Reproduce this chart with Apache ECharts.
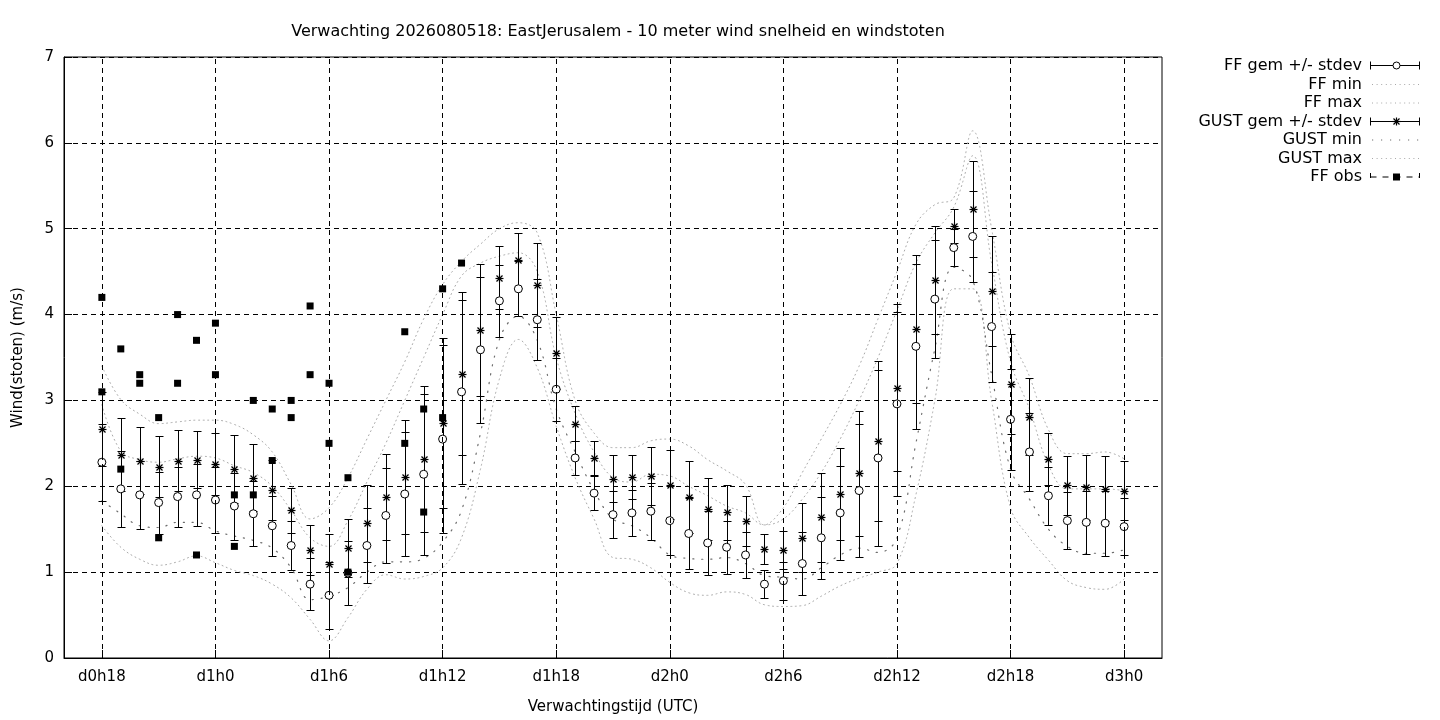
<!DOCTYPE html>
<html>
<head>
<meta charset="utf-8">
<script src="https://cdn.jsdelivr.net/npm/echarts@6/dist/echarts.min.js"></script>
<style>
  html, body { margin: 0; padding: 0; background: #fff; }
  #chart { width: 1440px; height: 720px; }
</style>
</head>
<body>
<div id="chart"></div>
<script>
// forecast hours since d0h0
var hours = [18, 19, 20, 21, 22, 23, 24, 25, 26, 27,
             28, 29, 30, 31, 32, 33, 34, 35, 36, 37,
             38, 39, 40, 41, 42, 43, 44, 45, 46, 47,
             48, 49, 50, 51, 52, 53, 54, 55, 56, 57,
             58, 59, 60, 61, 62, 63, 64, 65, 66, 67,
             68, 69, 70, 71, 72];
var tickHours = [18, 24, 30, 36, 42, 48, 54, 60, 66, 72];

var ffMean = [2.28, 1.97, 1.90, 1.81, 1.88, 1.90, 1.84, 1.77, 1.68, 1.54,
              1.31, 0.86, 0.73, 0.99, 1.31, 1.66, 1.91, 2.14, 2.55, 3.10,
              3.59, 4.16, 4.30, 3.94, 3.13, 2.33, 1.92, 1.67, 1.69, 1.71,
              1.60, 1.45, 1.34, 1.29, 1.20, 0.86, 0.90, 1.10, 1.40, 1.69,
              1.95, 2.33, 2.96, 3.63, 4.18, 4.78, 4.91, 3.86, 2.78, 2.40,
              1.89, 1.60, 1.58, 1.57, 1.53];
var ffStd = [0.45, 0.44, 0.40, 0.36, 0.35, 0.36, 0.38, 0.39, 0.38, 0.35,
             0.29, 0.30, 0.39, 0.37, 0.44, 0.55, 0.72, 0.94, 1.09, 1.07,
             0.85, 0.42, 0.32, 0.47, 0.37, 0.20, 0.20, 0.27, 0.27, 0.33,
             0.40, 0.41, 0.37, 0.31, 0.27, 0.16, 0.22, 0.37, 0.48, 0.55,
             0.77, 1.02, 1.07, 0.96, 0.69, 0.22, 0.53, 0.64, 0.59, 0.45,
             0.34, 0.33, 0.37, 0.38, 0.33];
var gustMean = [2.67, 2.37, 2.30, 2.23, 2.30, 2.31, 2.26, 2.20, 2.10, 1.96,
                1.72, 1.26, 1.09, 1.28, 1.57, 1.88, 2.11, 2.32, 2.74, 3.31,
                3.82, 4.43, 4.63, 4.34, 3.55, 2.73, 2.33, 2.09, 2.11, 2.12,
                2.02, 1.88, 1.74, 1.70, 1.60, 1.27, 1.26, 1.40, 1.64, 1.91,
                2.15, 2.53, 3.15, 3.83, 4.40, 5.03, 5.23, 4.27, 3.19, 2.81,
                2.32, 2.01, 1.99, 1.97, 1.95];
var gustStd = [0.43, 0.42, 0.39, 0.36, 0.35, 0.33, 0.36, 0.40, 0.39, 0.35,
               0.26, 0.29, 0.36, 0.34, 0.45, 0.50, 0.66, 0.85, 0.99, 0.95,
               0.77, 0.37, 0.32, 0.49, 0.42, 0.20, 0.20, 0.27, 0.26, 0.34,
               0.40, 0.42, 0.36, 0.32, 0.29, 0.17, 0.22, 0.40, 0.52, 0.54,
               0.73, 0.93, 0.97, 0.86, 0.63, 0.20, 0.56, 0.64, 0.58, 0.45,
               0.30, 0.34, 0.38, 0.38, 0.34];
var ffMin = [1.54, 1.29, 1.15, 1.08, 1.12, 1.19, 1.11, 1.02, 0.96, 0.86,
             0.70, 0.45, 0.20, 0.47, 0.80, 0.97, 0.92, 0.95, 1.05, 1.40,
             2.20, 3.25, 3.71, 3.38, 2.70, 2.10, 1.62, 1.17, 1.15, 1.05,
             0.88, 0.76, 0.73, 0.77, 0.74, 0.62, 0.60, 0.61, 0.72, 0.84,
             0.93, 1.00, 1.10, 1.90, 3.00, 4.30, 4.30, 3.00, 1.75, 1.40,
             1.14, 0.90, 0.82, 0.80, 0.92];
var ffMax = [2.95, 2.41, 2.31, 2.28, 2.32, 2.35, 2.33, 2.24, 2.16, 2.00,
             1.72, 1.40, 1.30, 1.60, 2.05, 2.50, 3.00, 3.50, 4.00, 4.45,
             4.60, 4.68, 4.72, 4.50, 3.50, 2.85, 2.40, 2.10, 2.05, 2.14,
             2.12, 2.00, 1.89, 1.77, 1.69, 1.55, 1.62, 1.85, 2.16, 2.55,
             3.00, 3.50, 4.05, 4.60, 4.95, 5.25, 5.85, 4.60, 3.45, 2.90,
             2.25, 1.97, 1.97, 1.97, 1.95];
var gustMin = [1.83, 1.68, 1.54, 1.52, 1.58, 1.58, 1.48, 1.42, 1.37, 1.28,
               1.05, 0.68, 0.72, 0.82, 1.00, 1.12, 1.12, 1.16, 1.35, 1.72,
               2.62, 3.71, 3.98, 3.70, 2.90, 2.40, 1.95, 1.62, 1.54, 1.40,
               1.20, 1.16, 1.15, 1.17, 1.10, 0.96, 0.94, 0.92, 1.05, 1.20,
               1.28, 1.23, 1.40, 2.50, 3.60, 4.55, 4.40, 3.30, 2.20, 1.85,
               1.50, 1.30, 1.22, 1.22, 1.26];
var gustMax = [3.40, 3.01, 2.84, 2.73, 2.75, 2.77, 2.77, 2.72, 2.60, 2.40,
               2.02, 1.62, 1.75, 2.10, 2.55, 3.00, 3.45, 3.95, 4.35, 4.62,
               4.82, 5.00, 5.07, 4.95, 4.00, 3.00, 2.62, 2.45, 2.45, 2.53,
               2.55, 2.47, 2.31, 2.18, 2.02, 1.55, 1.75, 2.16, 2.55, 2.95,
               3.40, 3.95, 4.50, 5.05, 5.28, 5.36, 6.14, 5.00, 3.78, 3.28,
               2.66, 2.38, 2.38, 2.40, 2.32];

// observations (two per hour where available)
var obsHours = [18, 18, 19, 19, 20, 20, 21, 21, 22, 22, 23, 23, 24, 24,
                25, 25, 26, 26, 27, 27, 28, 28, 29, 29, 30, 30, 31, 31,
                34, 34, 35, 35, 36, 36, 37];
var obsValues = [4.2, 3.1, 3.6, 2.2, 3.3, 3.2, 2.8, 1.4, 4.0, 3.2, 3.7, 1.2, 3.9, 3.3,
                 1.9, 1.3, 3.0, 1.9, 2.9, 2.3, 3.0, 2.8, 4.1, 3.3, 3.2, 2.5, 2.1, 1.0,
                 3.8, 2.5, 2.9, 1.7, 4.3, 2.8, 4.6];

var FONT = 'DejaVu Sans';
var LIGHT = '#a8a8a8';
var DARK = '#6e6e6e';

function pair(a, b) {
  return hours.map(function (h, i) { return b ? [h, a[i], b[i]] : [h, a[i]]; });
}

function px(v) { return Math.round(v) + 0.5; }

function errorBar(params, api) {
  var x = api.value(0), m = api.value(1), s = api.value(2);
  var t = api.coord([x, m + s]), b = api.coord([x, m - s]);
  var cx = px(t[0]), yt = px(t[1]), yb = px(b[1]), w = 4;
  var st = { stroke: '#000', lineWidth: 1, fill: null };
  return {
    type: 'group',
    children: [
      { type: 'line', shape: { x1: cx, y1: yt, x2: cx, y2: yb }, style: st },
      { type: 'line', shape: { x1: cx - w, y1: yt, x2: cx + w, y2: yt }, style: st },
      { type: 'line', shape: { x1: cx - w, y1: yb, x2: cx + w, y2: yb }, style: st }
    ]
  };
}

function starShape(cx, cy) {
  var r = 4, d = 3;
  var st = { stroke: '#000', lineWidth: 1.2, fill: null };
  return [
    { type: 'line', shape: { x1: cx, y1: cy - r, x2: cx, y2: cy + r }, style: st },
    { type: 'line', shape: { x1: cx - r, y1: cy, x2: cx + r, y2: cy }, style: st },
    { type: 'line', shape: { x1: cx - d, y1: cy - d, x2: cx + d, y2: cy + d }, style: st },
    { type: 'line', shape: { x1: cx - d, y1: cy + d, x2: cx + d, y2: cy - d }, style: st }
  ];
}

function starItem(params, api) {
  var p = api.coord([api.value(0), api.value(1)]);
  return { type: 'group', children: starShape(px(p[0]), px(p[1])) };
}

function dotted(name, data, color, dash, width) {
  return {
    name: name, type: 'line', data: data, z: 2,
    smooth: 0.4, showSymbol: false, symbol: 'none',
    lineStyle: { color: color, width: width, type: dash, cap: 'round' }
  };
}

// legend drawn by hand, gnuplot style: text on the left, sample on the right
var legendNames = ['FF gem +/- stdev', 'FF min', 'FF max', 'GUST gem +/- stdev',
                   'GUST min', 'GUST max', 'FF obs'];
var legendY = [65.5, 84.5, 103, 121.5, 140, 158.5, 177];
var lx1 = 1370.5, lx2 = 1419.5, lmid = 1396.5;
var legendGraphics = [];
legendNames.forEach(function (n, i) {
  legendGraphics.push({
    type: 'text', x: 1362, y: legendY[i],
    style: { text: n, font: '16px "' + FONT + '"', fill: '#000', align: 'right', verticalAlign: 'middle' }
  });
});
function lline(x1, y1, x2, y2, st) {
  legendGraphics.push({ type: 'line', shape: { x1: x1, y1: y1, x2: x2, y2: y2 }, style: st });
}
var solid = { stroke: '#000', lineWidth: 1 };
[0, 3].forEach(function (i) {
  var y = legendY[i];
  lline(lx1, y, lx2, y, solid);
  lline(lx1, y - 4, lx1, y + 4, solid);
  lline(lx2, y - 4, lx2, y + 4, solid);
});
legendGraphics.push({
  type: 'circle', shape: { cx: lmid, cy: legendY[0], r: 3.5 },
  style: { fill: '#fff', stroke: '#000', lineWidth: 1 }
});
starShape(lmid, legendY[3]).forEach(function (s) { legendGraphics.push(s); });
[1, 2, 5].forEach(function (i) {
  lline(1372, legendY[i], 1419, legendY[i], { stroke: LIGHT, lineWidth: 1, lineDash: [1, 3.6] });
});
lline(1372, legendY[4], 1419, legendY[4], { stroke: DARK, lineWidth: 1.2, lineDash: [1.2, 7.8] });
var yo = legendY[6];
lline(lx1, yo, lx2, yo, { stroke: '#000', lineWidth: 1, lineDash: [6, 6] });
lline(lx1, yo - 4, lx1, yo + 1, solid);
lline(lx2, yo - 4, lx2, yo + 1, solid);
legendGraphics.push({
  type: 'rect', shape: { x: lmid - 3.5, y: yo - 3.5, width: 7, height: 7 },
  style: { fill: '#000' }
});

var option = {
  animation: false,
  backgroundColor: '#fff',
  textStyle: { fontFamily: FONT },
  title: {
    text: 'Verwachting 2026080518: EastJerusalem - 10 meter wind snelheid en windstoten',
    left: 613, top: 19, textAlign: 'center',
    textStyle: { fontFamily: FONT, fontSize: 16, fontWeight: 'normal', color: '#000' }
  },
  grid: {
    left: 64, right: 278, top: 57, bottom: 61,
    show: true, borderColor: '#000', borderWidth: 1, backgroundColor: 'transparent'
  },
  xAxis: {
    type: 'value', min: 16, max: 74,
    name: 'Verwachtingstijd (UTC)', nameLocation: 'middle', nameGap: 42,
    nameTextStyle: { fontFamily: FONT, fontSize: 15, color: '#000' },
    axisLine: { show: true, lineStyle: { color: '#000' } },
    axisTick: { show: true, inside: true, length: 8, customValues: tickHours, lineStyle: { color: '#000' } },
    axisLabel: {
      customValues: tickHours, margin: 12,
      fontFamily: FONT, fontSize: 15, color: '#000',
      formatter: function (v) { return 'd' + Math.floor(v / 24) + 'h' + (v % 24); }
    },
    splitLine: { show: false }
  },
  yAxis: {
    type: 'value', min: 0, max: 7, interval: 1,
    name: 'Wind(stoten) (m/s)', nameLocation: 'middle', nameGap: 38, nameRotate: 90,
    nameTextStyle: { fontFamily: FONT, fontSize: 15, color: '#000' },
    axisLine: { show: true, lineStyle: { color: '#000' } },
    axisTick: { show: true, inside: true, length: 8, lineStyle: { color: '#000' } },
    axisLabel: { margin: 10, fontFamily: FONT, fontSize: 15, color: '#000' },
    splitLine: { show: true, lineStyle: { color: '#000', width: 1, type: [5, 4] } }
  },
  graphic: legendGraphics,
  series: [
    {
      name: 'grid', type: 'line', data: [], z: 1, silent: true,
      markLine: {
        silent: true, symbol: 'none', label: { show: false },
        lineStyle: { color: '#000', width: 1, type: [5, 4] },
        data: tickHours.map(function (h) { return { xAxis: h }; })
      }
    },
    dotted('FF min', pair(ffMin), LIGHT, [1, 3.6], 1),
    dotted('FF max', pair(ffMax), LIGHT, [1, 3.6], 1),
    dotted('GUST min', pair(gustMin), DARK, [1.2, 7.8], 1.2),
    dotted('GUST max', pair(gustMax), LIGHT, [1, 3.6], 1),
    {
      name: 'FF gem +/- stdev', type: 'custom', z: 3,
      renderItem: errorBar, data: pair(ffMean, ffStd), encode: { x: 0, y: 1 }
    },
    {
      name: 'GUST gem +/- stdev', type: 'custom', z: 3,
      renderItem: errorBar, data: pair(gustMean, gustStd), encode: { x: 0, y: 1 }
    },
    {
      name: 'FF gem', type: 'scatter', z: 4, data: pair(ffMean),
      symbol: 'circle', symbolSize: 8,
      itemStyle: { color: '#fff', borderColor: '#000', borderWidth: 1, opacity: 1 }
    },
    {
      name: 'GUST gem', type: 'custom', z: 4,
      renderItem: starItem, data: pair(gustMean), encode: { x: 0, y: 1 }
    },
    {
      name: 'FF obs', type: 'scatter', z: 5,
      data: obsHours.map(function (h, i) { return [h, obsValues[i]]; }),
      symbol: 'rect', symbolSize: 7,
      itemStyle: { color: '#000', opacity: 1 }
    }
  ]
};

var chart = echarts.init(document.getElementById('chart'));
chart.setOption(option);
</script>
</body>
</html>
